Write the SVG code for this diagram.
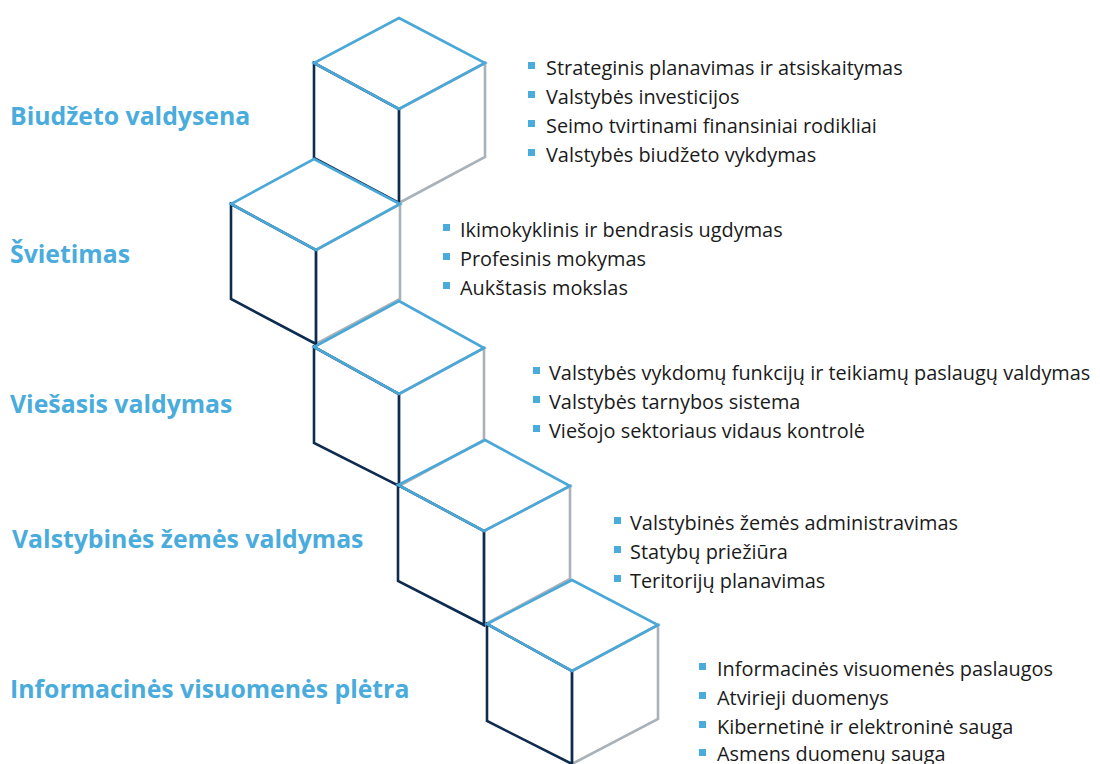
<svg xmlns="http://www.w3.org/2000/svg" width="1100" height="764" viewBox="0 0 1100 764">
<style>
.rf{fill:none;stroke:#A9B1B9;stroke-width:2.6;stroke-linejoin:miter}
.lf{fill:none;stroke:#0E2C50;stroke-width:2.6;stroke-linejoin:miter}
.tf{fill:none;stroke:#4AA8D8;stroke-width:2.6;stroke-linejoin:miter}
.h{font-family:"Open Sans","Noto Sans",sans-serif;font-weight:bold;font-size:24.8px;fill:#4AACDC}
.t{font-family:"Open Sans","Noto Sans",sans-serif;font-size:19.9px;fill:#1a1a1a}
.b{fill:#4AACDC}
</style>
<rect width="1100" height="764" fill="#ffffff"/>
<g id="cube1">
<polygon class="rf" points="399,109 485,63 485,157 399,203"/>
<polygon class="lf" points="314,63 399,109 399,203 314,158"/>
<polygon class="tf" points="399,18 485,63 399,109 314,63"/>
</g>
<g id="cube2">
<polygon class="rf" points="316,250 400,204 400,299 316,344"/>
<polygon class="lf" points="231,204 316,250 316,344 231,299"/>
<polygon class="tf" points="314,159 400,204 316,250 231,204"/>
</g>
<g id="cube3">
<polygon class="rf" points="399,394 484,348 484,440 399,486"/>
<polygon class="lf" points="314,347 399,394 399,486 314,443"/>
<polygon class="tf" points="399,301 484,348 399,394 314,347"/>
</g>
<g id="cube4">
<polygon class="rf" points="484,531 570,486 570,579 484,625"/>
<polygon class="lf" points="398,485 484,531 484,625 398,581"/>
<polygon class="tf" points="485,440 570,486 484,531 398,485"/>
</g>
<g id="cube5">
<polygon class="rf" points="572,671 658,625 658,719 572,764"/>
<polygon class="lf" points="487,624 572,671 572,764 487,721"/>
<polygon class="tf" points="572,580 658,625 572,671 487,624"/>
</g>
<g id="heading1"><text class="h" x="10" y="125">Biudžeto valdysena</text></g>
<g id="heading2"><text class="h" x="10" y="263">Švietimas</text></g>
<g id="heading3"><text class="h" x="10" y="413">Viešasis valdymas</text></g>
<g id="heading4"><text class="h" x="12" y="548">Valstybinės žemės valdymas</text></g>
<g id="heading5"><text class="h" x="10" y="698">Informacinės visuomenės plėtra</text></g>
<g id="list1">
<rect class="b" x="528" y="62" width="7" height="7"/><text class="t" x="546" y="75">Strateginis planavimas ir atsiskaitymas</text>
<rect class="b" x="528" y="91" width="7" height="7"/><text class="t" x="546" y="104">Valstybės investicijos</text>
<rect class="b" x="528" y="120" width="7" height="7"/><text class="t" x="546" y="133">Seimo tvirtinami finansiniai rodikliai</text>
<rect class="b" x="528" y="149" width="7" height="7"/><text class="t" x="546" y="162">Valstybės biudžeto vykdymas</text>
</g>
<g id="list2">
<rect class="b" x="443" y="224" width="7" height="7"/><text class="t" x="460" y="237">Ikimokyklinis ir bendrasis ugdymas</text>
<rect class="b" x="443" y="253" width="7" height="7"/><text class="t" x="460" y="266">Profesinis mokymas</text>
<rect class="b" x="443" y="282" width="7" height="7"/><text class="t" x="460" y="295">Aukštasis mokslas</text>
</g>
<g id="list3">
<rect class="b" x="533" y="367" width="7" height="7"/><text class="t" x="549" y="380">Valstybės vykdomų funkcijų ir teikiamų paslaugų valdymas</text>
<rect class="b" x="533" y="396" width="7" height="7"/><text class="t" x="549" y="409">Valstybės tarnybos sistema</text>
<rect class="b" x="533" y="425" width="7" height="7"/><text class="t" x="549" y="438">Viešojo sektoriaus vidaus kontrolė</text>
</g>
<g id="list4">
<rect class="b" x="614" y="517" width="7" height="7"/><text class="t" x="630" y="530">Valstybinės žemės administravimas</text>
<rect class="b" x="614" y="546" width="7" height="7"/><text class="t" x="630" y="559">Statybų priežiūra</text>
<rect class="b" x="614" y="575" width="7" height="7"/><text class="t" x="630" y="588">Teritorijų planavimas</text>
</g>
<g id="list5">
<rect class="b" x="699" y="663" width="7" height="7"/><text class="t" x="717" y="676">Informacinės visuomenės paslaugos</text>
<rect class="b" x="699" y="692" width="7" height="7"/><text class="t" x="717" y="705">Atvirieji duomenys</text>
<rect class="b" x="699" y="721" width="7" height="7"/><text class="t" x="717" y="734">Kibernetinė ir elektroninė sauga</text>
<rect class="b" x="699" y="749" width="7" height="7"/><text class="t" x="717" y="761">Asmens duomenų sauga</text>
</g>
</svg>
